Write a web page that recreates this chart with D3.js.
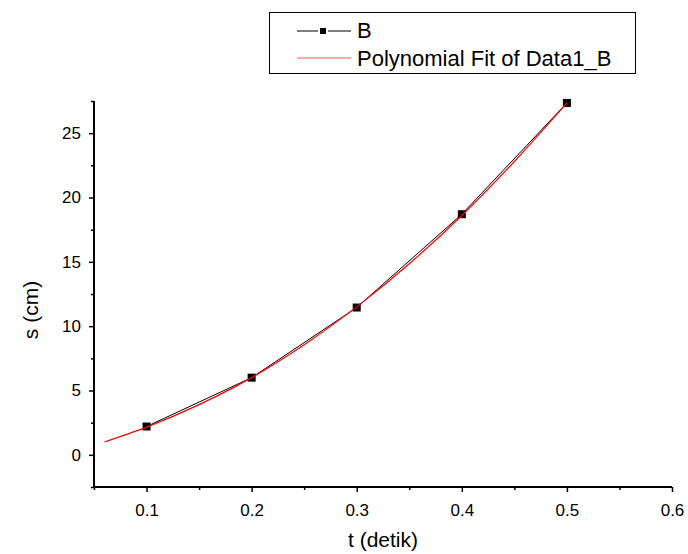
<!DOCTYPE html>
<html>
<head>
<meta charset="utf-8">
<script src="https://cdn.jsdelivr.net/npm/d3@7"></script>
<style>
  body { margin: 0; background: #fff; }
  text { font-family: "Liberation Sans", Arial, sans-serif; fill: #000; }
</style>
</head>
<body>
<div id="chart"></div>
<script>
// Measured points (series B)
const tValues = [0.1, 0.2, 0.3, 0.4, 0.5];
const sValues = [2.2, 6.0, 11.45, 18.7, 27.35];

// Polynomial fit curve
const fitT = [0.06, 0.1, 0.15, 0.2, 0.25, 0.3, 0.35, 0.4, 0.45, 0.5];
const fitS = [1.0, 2.15, 3.9, 6.0, 8.55, 11.5, 14.85, 18.6, 22.8, 27.35];

// Axis ticks
const xMajor = [0.1, 0.2, 0.3, 0.4, 0.5, 0.6];
const xMinor = [0.05, 0.15, 0.25, 0.35, 0.45, 0.55];
const yMajor = [0, 5, 10, 15, 20, 25];
const yMinor = [-2.5, 2.5, 7.5, 12.5, 17.5, 22.5, 27.5];

const legendLabels = ['B', 'Polynomial Fit of Data1_B'];

const W = 688, H = 554;
const margin = { top: 101, right: 16, bottom: 67, left: 94 };
const width = W - margin.left - margin.right;
const height = H - margin.top - margin.bottom;

const svg = d3.select('#chart')
    .append('svg')
    .attr('width', W)
    .attr('height', H);

const g = svg.append('g')
    .attr('transform', `translate(${margin.left},${margin.top})`);

const x = d3.scaleLinear().domain([0.05, 0.6]).range([0, width]);
const y = d3.scaleLinear().domain([-2.5, 27.5]).range([height, 0]);

// x axis: major ticks with labels, minor ticks without
g.append('g')
    .attr('transform', `translate(0,${height})`)
    .call(d3.axisBottom(x).tickValues(xMajor).tickSize(5).tickPadding(12).tickFormat(d3.format('.1f')))
    .call(a => a.select('.domain').attr('stroke-width', 2).attr('d', `M0,0H${width}`))
    .call(a => a.selectAll('.tick line').attr('stroke-width', 1.5))
    .call(a => a.selectAll('text').style('font-size', '17px'));
g.append('g')
    .attr('transform', `translate(0,${height})`)
    .call(d3.axisBottom(x).tickValues(xMinor).tickSize(3).tickFormat(''))
    .call(a => a.select('.domain').remove())
    .call(a => a.selectAll('.tick line').attr('stroke-width', 1.5));

// y axis
g.append('g')
    .call(d3.axisLeft(y).tickValues(yMajor).tickSize(5).tickPadding(8))
    .call(a => a.select('.domain').attr('stroke-width', 2).attr('d', `M0,${height}V0`))
    .call(a => a.selectAll('.tick line').attr('stroke-width', 1.5))
    .call(a => a.selectAll('text').style('font-size', '17px'));
g.append('g')
    .call(d3.axisLeft(y).tickValues(yMinor).tickSize(3).tickFormat(''))
    .call(a => a.select('.domain').remove())
    .call(a => a.selectAll('.tick line').attr('stroke-width', 1.5));

// axis titles
svg.append('text')
    .attr('x', margin.left + width / 2)
    .attr('y', 547)
    .attr('text-anchor', 'middle')
    .style('font-size', '21px')
    .text('t (detik)');
svg.append('text')
    .attr('transform', `translate(38,310) rotate(-90)`)
    .attr('text-anchor', 'middle')
    .style('font-size', '21px')
    .text('s (cm)');

const data = tValues.map((t, i) => ({ t, s: sValues[i] }));
const fit = fitT.map((t, i) => ({ t, s: fitS[i] }));

// data line
g.append('path')
    .datum(data)
    .attr('fill', 'none')
    .attr('stroke', '#000')
    .attr('stroke-width', 1)
    .attr('d', d3.line().x(d => x(d.t)).y(d => y(d.s)));

// markers
g.selectAll('.pt')
    .data(data)
    .enter()
    .append('rect')
    .attr('class', 'pt')
    .attr('x', d => x(d.t) - 4)
    .attr('y', d => y(d.s) - 4)
    .attr('width', 8)
    .attr('height', 8)
    .attr('fill', '#000');

// fit curve
g.append('path')
    .datum(fit)
    .attr('fill', 'none')
    .attr('stroke', '#ff0000')
    .attr('stroke-width', 1.2)
    .attr('d', d3.line().curve(d3.curveMonotoneX).x(d => x(d.t)).y(d => y(d.s)));

// legend
const legend = svg.append('g');
legend.append('rect')
    .attr('x', 269.5)
    .attr('y', 12.5)
    .attr('width', 366)
    .attr('height', 61)
    .attr('fill', '#fff')
    .attr('stroke', '#000')
    .attr('stroke-width', 1);

// black sample: line, gap, marker, gap, line
legend.append('line')
    .attr('x1', 297).attr('x2', 318)
    .attr('y1', 31).attr('y2', 31)
    .attr('stroke', '#000');
legend.append('line')
    .attr('x1', 328).attr('x2', 351)
    .attr('y1', 31).attr('y2', 31)
    .attr('stroke', '#000');
legend.append('rect')
    .attr('x', 320).attr('y', 28)
    .attr('width', 6).attr('height', 6)
    .attr('fill', '#000');
legend.append('line')
    .attr('x1', 297).attr('x2', 351)
    .attr('y1', 58).attr('y2', 58)
    .attr('stroke', '#ff5555');

legend.selectAll('.lab')
    .data(legendLabels)
    .enter()
    .append('text')
    .attr('class', 'lab')
    .attr('x', 357)
    .attr('y', (d, i) => 30 + i * 28)
    .attr('dy', '0.35em')
    .style('font-size', '22px')
    .text(d => d);
</script>
</body>
</html>
